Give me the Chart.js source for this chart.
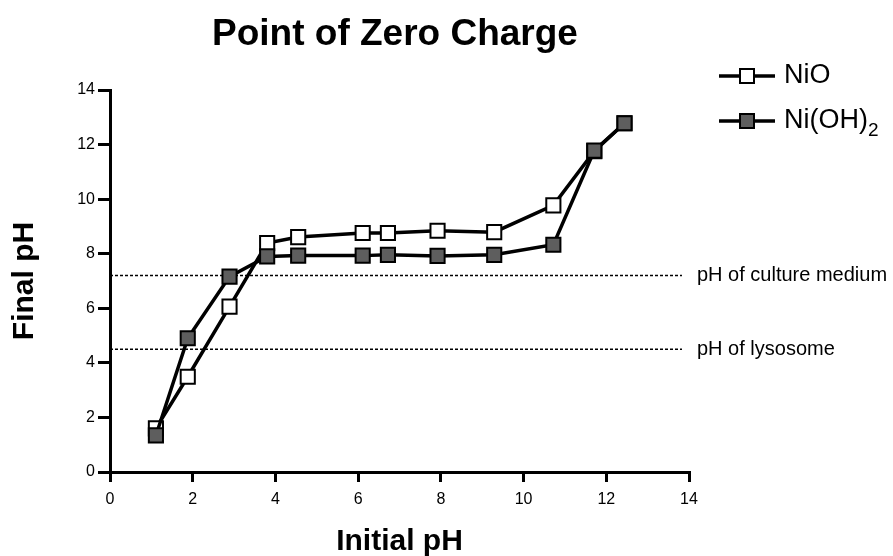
<!DOCTYPE html>
<html>
<head>
<meta charset="utf-8">
<script src="https://cdn.jsdelivr.net/npm/chart.js@4.4.1/dist/chart.umd.min.js"></script>
<style>
  html, body { margin: 0; padding: 0; background: #fff; }
  #wrap { width: 893px; height: 556px; }
</style>
</head>
<body>
<div id="wrap"><canvas id="pzc" width="893" height="556"></canvas></div>
<script>
const initialPH = [1.11, 1.88, 2.89, 3.80, 4.55, 6.11, 6.72, 7.92, 9.29, 10.72, 11.71, 12.44];
const nioFinal = [1.60, 3.49, 6.06, 8.39, 8.61, 8.76, 8.76, 8.84, 8.79, 9.77, 11.76, 12.78];
const niohFinal = [1.34, 4.90, 7.16, 7.90, 7.93, 7.93, 7.96, 7.92, 7.96, 8.33, 11.78, 12.78];

const refLevels = [7.2, 4.5];
const refLabels = ['pH of culture medium', 'pH of lysosome'];
const refSpan = [0, 13.83];

const axisTicks = [0, 2, 4, 6, 8, 10, 12, 14];

const font = '"Liberation Sans", Arial, sans-serif';

const toPoints = (xs, ys) => xs.map((x, i) => ({ x: x, y: ys[i] }));

const refSets = refLevels.map((lvl, i) => ({
    label: refLabels[i],
    data: refSpan.map(x => ({ x: x, y: lvl })),
    borderColor: '#000',
    borderWidth: 1.5,
    borderDash: [3, 2],
    pointRadius: 0,
    order: 5
}));

const series = [{
    label: 'NiO',
    data: toPoints(initialPH, nioFinal),
    borderColor: '#000',
    borderWidth: 3.5,
    pointStyle: 'rect',
    pointRadius: 10,
    pointBackgroundColor: '#fff',
    pointBorderColor: '#000',
    pointBorderWidth: 2,
    order: 2
}, {
    label: 'Ni(OH)₂',
    data: toPoints(initialPH, niohFinal),
    borderColor: '#000',
    borderWidth: 3.5,
    pointStyle: 'rect',
    pointRadius: 10,
    pointBackgroundColor: '#5e5e5e',
    pointBorderColor: '#000',
    pointBorderWidth: 2,
    order: 1
}];

// titles, legend and reference labels
const textPlugin = {
    id: 'textPlugin',
    afterDraw(chart) {
        const ctx = chart.ctx;
        const area = chart.chartArea;
        const yS = chart.scales.y;
        ctx.save();
        ctx.fillStyle = '#000';

        ctx.font = 'bold 37px ' + font;
        ctx.textAlign = 'center';
        ctx.textBaseline = 'alphabetic';
        ctx.fillText('Point of Zero Charge', 395, 45);

        ctx.font = 'bold 30px ' + font;
        ctx.fillText('Initial pH', (area.left + area.right) / 2, 550);

        ctx.save();
        ctx.translate(33, (area.top + area.bottom) / 2);
        ctx.rotate(-Math.PI / 2);
        ctx.fillText('Final pH', 0, 0);
        ctx.restore();

        // reference labels
        ctx.font = '20px ' + font;
        ctx.textAlign = 'left';
        ctx.textBaseline = 'middle';
        refLevels.forEach((lvl, i) => {
            ctx.fillText(refLabels[i], 697, yS.getPixelForValue(lvl));
        });

        // legend
        series.forEach((ds, i) => {
            const ly = 76 + i * 45;
            ctx.strokeStyle = '#000';
            ctx.lineWidth = 3.5;
            ctx.beginPath();
            ctx.moveTo(719, ly);
            ctx.lineTo(775, ly);
            ctx.stroke();
            ctx.fillStyle = ds.pointBackgroundColor;
            ctx.lineWidth = 2;
            ctx.fillRect(740, ly - 7, 14, 14);
            ctx.strokeRect(740, ly - 7, 14, 14);
            ctx.fillStyle = '#000';
            ctx.font = '27px ' + font;
            ctx.textBaseline = 'middle';
            const parts = ds.label.split('₂');
            ctx.fillText(parts[0], 784, ly);
            if (parts.length > 1) {
                const w = ctx.measureText(parts[0]).width;
                ctx.font = '19px ' + font;
                ctx.fillText('2', 784 + w, ly + 10);
            }
        });
        ctx.restore();
    }
};

new Chart(document.getElementById('pzc'), {
    type: 'line',
    data: { datasets: [...series, ...refSets] },
    options: {
        responsive: false,
        animation: false,
        layout: { padding: { left: 0, top: 90, right: 204, bottom: 0 } },
        plugins: {
            legend: { display: false },
            title: { display: false },
            tooltip: { enabled: false }
        },
        scales: {
            x: {
                type: 'linear',
                min: 0,
                max: 14,
                afterFit: s => { s.height = 84; },
                afterBuildTicks: s => { s.ticks = axisTicks.map(v => ({ value: v })); },
                border: { color: '#000', width: 3 },
                grid: { drawOnChartArea: false, drawTicks: true, tickLength: 10, color: '#000', lineWidth: 3 },
                ticks: { color: '#000', font: { family: font, size: 16 }, padding: 8 }
            },
            y: {
                type: 'linear',
                min: 0,
                max: 14,
                afterFit: s => { s.width = 110; },
                afterBuildTicks: s => { s.ticks = axisTicks.map(v => ({ value: v })); },
                border: { color: '#000', width: 3 },
                grid: { drawOnChartArea: false, drawTicks: true, tickLength: 12, color: '#000', lineWidth: 3 },
                ticks: { color: '#000', font: { family: font, size: 16 }, padding: 3 }
            }
        }
    },
    plugins: [textPlugin]
});
</script>
</body>
</html>
